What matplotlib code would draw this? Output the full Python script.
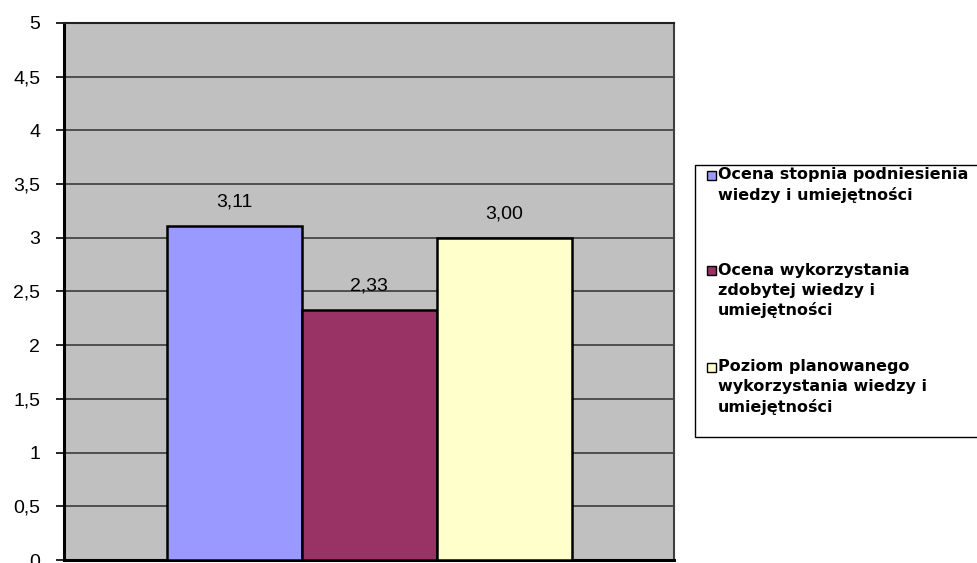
import matplotlib.pyplot as plt
from matplotlib.patches import Rectangle

series = [
    "Ocena stopnia podniesienia\nwiedzy i umiejętności",
    "Ocena wykorzystania\nzdobytej wiedzy i\numiejętności",
    "Poziom planowanego\nwykorzystania wiedzy i\numiejętności",
]
values = [3.11, 2.33, 3.00]
colors = ["#9999FF", "#993366", "#FFFFCC"]
yticks = [0, 0.5, 1, 1.5, 2, 2.5, 3, 3.5, 4, 4.5, 5]

plt.rcParams["font.family"] = ["Liberation Sans", "DejaVu Sans"]

fig = plt.figure(figsize=(9.78, 5.63), dpi=100)
ax = fig.add_axes([0.0654, 0.0053, 0.624, 0.954])
ax.set_facecolor("#C0C0C0")

# bars
x = [-1, 0, 1]
ax.bar(x, values, width=1.0, color=colors, edgecolor="black", linewidth=1.8, zorder=3)
for xi, v in zip(x, values):
    ax.text(xi, v + 0.14, f"{v:.2f}".replace(".", ","), ha="center", va="bottom",
            fontsize=14, zorder=4)

ax.set_xlim(-2.26, 2.26)
ax.set_ylim(0, 5)
ax.set_yticks(yticks)
ax.set_yticklabels([f"{t:g}".replace(".", ",") for t in yticks], fontsize=14)
ax.set_xticks([])
ax.tick_params(axis="y", direction="out", length=6, width=1.2, pad=11)
ax.grid(axis="y", color="#303030", linewidth=1.1, zorder=1)
ax.set_axisbelow(True)
for side in ["left", "bottom"]:
    ax.spines[side].set_linewidth(2.2)
    ax.spines[side].set_color("black")
ax.spines["top"].set_linewidth(1.5)
ax.spines["top"].set_color("#202020")
ax.spines["right"].set_linewidth(1.5)
ax.spines["right"].set_color("#404040")

# legend box on the right
W, H = 978, 563
fig.patches.append(Rectangle((695 / W, 1 - 437 / H), 300 / W, 272 / H,
                             transform=fig.transFigure, facecolor="white",
                             edgecolor="black", linewidth=1.0))
entry_tops = [175, 270, 367]
for label, c, top in zip(series, colors, entry_tops):
    fig.patches.append(Rectangle((707 / W, 1 - (top + 4.5) / H), 9 / W, 9 / H,
                                 transform=fig.transFigure, facecolor=c,
                                 edgecolor="black", linewidth=1.0))
    for i, line in enumerate(label.split("\n")):
        fig.text(718 / W, 1 - (top + 20 * i) / H, line, ha="left", va="center",
                 fontsize=11.5, fontweight="bold", family="DejaVu Sans")

fig.savefig("out.png", dpi=100)
